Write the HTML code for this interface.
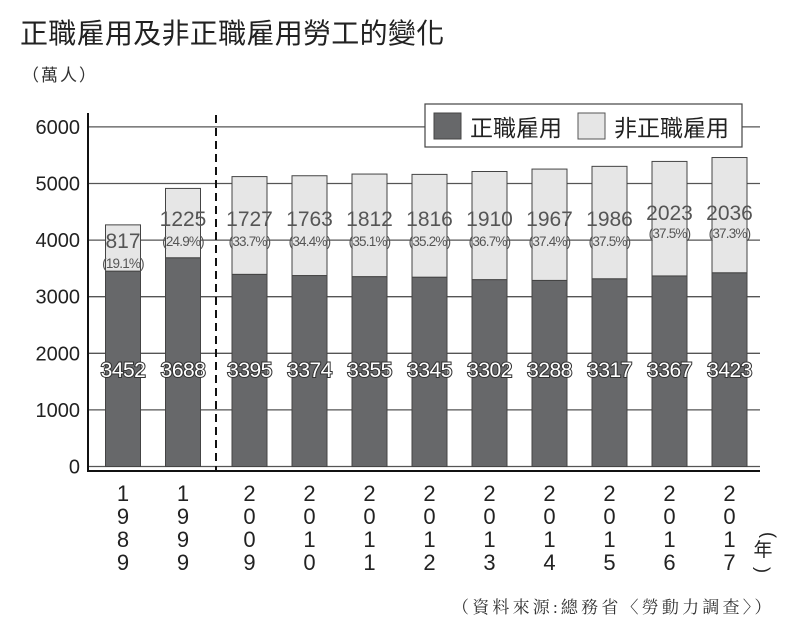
<!DOCTYPE html>
<html><head><meta charset="utf-8"><style>
body{margin:0;background:#fff;width:792px;height:635px;overflow:hidden}
svg{display:block}
</style></head><body>
<svg id="c" width="792" height="635" xmlns="http://www.w3.org/2000/svg">
<text x="20" y="43" font-family="'Liberation Sans','Noto Sans CJK TC',sans-serif" font-size="28" fill="#222" letter-spacing="0.3">正職雇用及非正職雇用勞工的變化</text>
<text x="22" y="81" font-family="'Liberation Sans','Noto Sans CJK TC',sans-serif" font-size="17" fill="#333" letter-spacing="2">（萬人）</text>
<g id="grid"></g><g id="bars"></g><g id="labels"></g>
<line x1="216" y1="115" x2="216" y2="472" stroke="#111" stroke-width="2" stroke-dasharray="8,5"/>
<line x1="88" y1="113" x2="88" y2="472" stroke="#111" stroke-width="2"/>
<line x1="88" y1="471" x2="760" y2="471" stroke="#111" stroke-width="2"/>
<g>
<rect x="425" y="104" width="317" height="43" fill="#fff" stroke="#444" stroke-width="1.2"/>
<rect x="434" y="113" width="27" height="26" fill="#67686a" stroke="#444"/>
<text x="470" y="136" font-family="'Liberation Sans','Noto Sans CJK TC',sans-serif" font-size="23" fill="#222">正職雇用</text>
<rect x="578" y="113" width="27" height="26" fill="#e6e6e6" stroke="#555"/>
<text x="614" y="136" font-family="'Liberation Sans','Noto Sans CJK TC',sans-serif" font-size="23" fill="#222">非正職雇用</text>
</g>
<g font-family="'Liberation Sans','Noto Sans CJK TC',sans-serif" font-size="19" fill="#222">
<text x="0" y="0" text-anchor="middle" font-size="18" transform="translate(763,535) rotate(90)">(</text>
<text x="763" y="556" text-anchor="middle">年</text>
<text x="0" y="0" text-anchor="middle" font-size="18" transform="translate(757,570) rotate(90)">)</text>
</g>
<text x="452" y="613" font-family="'Liberation Serif','Noto Serif CJK SC',serif" font-size="17" fill="#333" letter-spacing="3.2">（資料來源:總務省〈勞動力調查〉）</text>
</svg>
<script>
const years=["1989","1999","2009","2010","2011","2012","2013","2014","2015","2016","2017"];
const regular=[3452,3688,3395,3374,3355,3345,3302,3288,3317,3367,3423];
const nonRegular=[817,1225,1727,1763,1812,1816,1910,1967,1986,2023,2036];
const pctLabels=["19.1%","24.9%","33.7%","34.4%","35.1%","35.2%","36.7%","37.4%","37.5%","37.5%","37.3%"];
const yTicks=[0,1000,2000,3000,4000,5000,6000];
const NS="http://www.w3.org/2000/svg";
function y(v){return 466.5-v*0.0566;}
function xc(i){return i<2?123+i*60:249.5+(i-2)*60;}
function mk(tag,attrs,parent){const e=document.createElementNS(NS,tag);for(const k in attrs)e.setAttribute(k,attrs[k]);parent.appendChild(e);return e;}
const grid=document.getElementById('grid'),bars=document.getElementById('bars'),labels=document.getElementById('labels');
const F="'Liberation Sans','Noto Sans CJK TC',sans-serif";
yTicks.forEach(t=>{
  const l=mk('line',{x1:88,x2:760,y1:y(t),y2:y(t),stroke:'#555','stroke-width':1.3},grid);
  
  
  const tx=mk('text',{x:80,y:y(t)+7,'text-anchor':'end','font-family':F,'font-size':20,fill:'#222'},grid);
  tx.textContent=t;
  
  
});
years.forEach((yr,i)=>{
  const cx=xc(i),w=35;
  const r=mk('rect',{x:cx-w/2,y:y(regular[i]),width:w,height:y(0)-y(regular[i]),fill:'#67686a',stroke:'#444'},bars);
  
  
  const top=regular[i]+nonRegular[i];
  const n=mk('rect',{x:cx-w/2,y:y(top),width:w,height:y(regular[i])-y(top),fill:'#e6e6e6',stroke:'#444'},bars);
  
  
  const rl=mk('text',{x:cx,y:377,'text-anchor':'middle','font-family':F,'font-size':21,fill:'#fff',stroke:'#333','stroke-width':2,'paint-order':'stroke','letter-spacing':'-0.5'},labels);
  rl.textContent=regular[i];
  
  
  const ly=i===0?248:(i>=9?220:226);
  const nl=mk('text',{x:cx,y:ly,'text-anchor':'middle','font-family':F,'font-size':21,fill:'#555'},labels);
  nl.textContent=nonRegular[i];
  
  
  const pl=mk('text',{x:cx,y:ly+(i===0?20:(i>=9?18:20)),'text-anchor':'middle','font-family':F,'font-size':13.5,fill:'#555','letter-spacing':'-0.8'},labels);
  pl.textContent='('+pctLabels[i]+')';
  
  
  yr.split('').forEach((d,k)=>{
    const dt=mk('text',{x:cx,y:501+k*23,'text-anchor':'middle','font-family':F,'font-size':22,fill:'#222'},labels);
    dt.textContent=d;
    
    
  });
});
</script>
</body></html>
